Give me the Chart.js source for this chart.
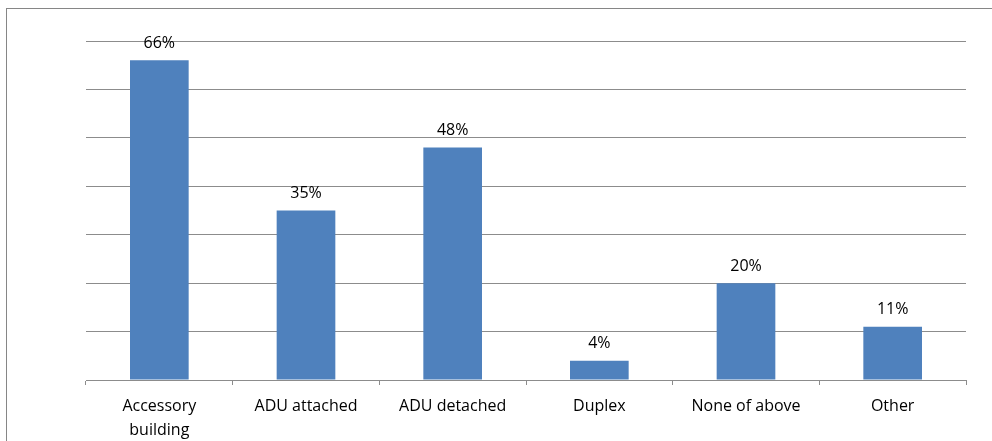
<!DOCTYPE html>
<html>
<head>
<meta charset="utf-8">
<title>Building types</title>
<script src="https://cdn.jsdelivr.net/npm/chart.js"></script>
<style>
  html, body { margin: 0; padding: 0; background: #fff; overflow: hidden; }
  #wrap { width: 992px; height: 441px; position: relative; }
</style>
</head>
<body>
<div id="wrap"><canvas id="chart" width="992" height="441"></canvas></div>
<script>
// data
const categories = [['Accessory', 'building'], 'ADU attached', 'ADU detached', 'Duplex', 'None of above', 'Other'];
const percents = [66, 35, 48, 4, 20, 11];
const yTicks = [0, 10, 20, 30, 40, 50, 60, 70];

const FONT = '"Open Sans", sans-serif';

// frame around the chart + value labels above the bars
const frame = {
  id: 'frame',
  beforeDraw(chart) {
    const c = chart.ctx;
    c.save();
    c.strokeStyle = '#868686';
    c.lineWidth = 1;
    c.strokeRect(6.5, 8.5, 2000, 2000);
    c.restore();
  },
  afterDatasetsDraw(chart) {
    const c = chart.ctx;
    const meta = chart.getDatasetMeta(0);
    c.save();
    c.fillStyle = '#000';
    c.font = '16px ' + FONT;
    c.textAlign = 'center';
    c.textBaseline = 'bottom';
    meta.data.forEach((bar, i) => {
      c.fillText(percents[i] + '%', bar.x, bar.y - 9);
    });
    c.restore();
  }
};

new Chart(document.getElementById('chart'), {
  type: 'bar',
  data: {
    labels: categories,
    datasets: [{
      data: percents,
      backgroundColor: '#4f81bd',
      barPercentage: 0.4,
      categoryPercentage: 1
    }]
  },
  options: {
    responsive: false,
    animation: false,
    layout: { padding: { left: 86, right: 26, top: 41, bottom: 0 } },
    plugins: { legend: { display: false }, tooltip: { enabled: false } },
    scales: {
      x: {
        grid: { offset: true, drawOnChartArea: false, drawTicks: true, tickLength: 5, color: '#8c8c8c' },
        border: { color: '#8c8c8c' },
        ticks: { color: '#000', font: { family: FONT, size: 16, lineHeight: 1.5 }, padding: 9, maxRotation: 0 },
        afterFit(s) { s.height = 61; }
      },
      y: {
        min: 0, max: 70,
        afterBuildTicks(s) { s.ticks = yTicks.map(v => ({ value: v })); },
        grid: { color: '#8c8c8c', drawTicks: false },
        border: { display: false },
        ticks: { display: false },
        afterFit(s) { s.width = 0; }
      }
    }
  },
  plugins: [frame]
});
</script>
</body>
</html>
